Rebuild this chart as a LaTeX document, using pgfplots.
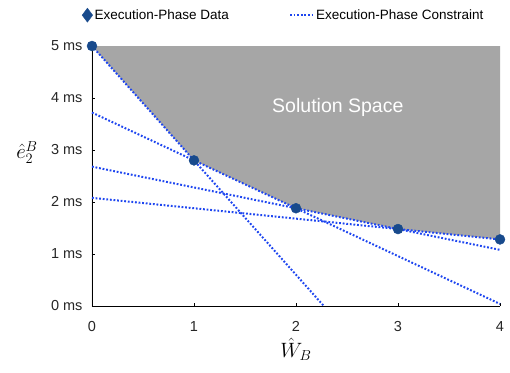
\documentclass[border=0pt]{standalone}
\usepackage{pgfplots}
\pgfplotsset{compat=1.18}
\usepackage{fontspec}
\setmainfont{Liberation Sans}
\definecolor{fillgray}{RGB}{166,166,166}
\definecolor{markblue}{RGB}{24,74,140}
\definecolor{lineblue}{RGB}{30,70,240}
\pgfplotsset{longline/.style={legend image code/.code={\draw[##1] (0pt,0pt) -- (23pt,0pt);}}}
\begin{document}
\begin{tikzpicture}
\begin{axis}[
  scale only axis,
  width=408pt, height=260pt,
  xmin=0, xmax=4, ymin=0, ymax=5,
  axis x line*=bottom, axis y line*=left,
  axis line style={-, black, line width=0.8pt},
  tick align=inside, major tick length=3pt,
  tick style={black, line width=0.6pt},
  xtick={0,1,2,3,4}, xticklabels={0,1,2,3,4},
  ytick={0,1,2,3,4,5}, yticklabels={0 ms,1 ms,2 ms,3 ms,4 ms,5 ms},
  ticklabel style={font=\fontsize{14.5}{16}\selectfont, text=black!85},
  xticklabel style={yshift=-12pt},
  yticklabel style={xshift=-6pt},
  xlabel={$\hat{W}_B$},
  xlabel style={font=\fontsize{20}{24}\selectfont, yshift=1pt},
  clip=false,
  legend columns=2,
  legend style={draw=none, fill=none, at={(0.47,1)}, anchor=south, yshift=21pt,
    font=\fontsize{13.5}{15}\selectfont, /tikz/every even column/.append style={column sep=58pt}},
  legend cell align=left,
]
\addlegendimage{only marks, mark=diamond*, mark size=7pt, color=markblue}
\addlegendentry{Execution-Phase Data}
\addlegendimage{lineblue, line width=2pt, dash pattern=on 1.8pt off 1.8pt, longline}
\addlegendentry{Execution-Phase Constraint}

\addplot[fill=fillgray, draw=none, forget plot] coordinates {
(0,5) (1,2.8) (2,1.88) (3,1.48) (4,1.28) (4,5) (0,5)} \closedcycle;

\addplot[lineblue, line width=2pt, dash pattern=on 1.8pt off 1.8pt, forget plot] coordinates {(0,5) (2.273,0)};
\addplot[lineblue, line width=2pt, dash pattern=on 1.8pt off 1.8pt, forget plot] coordinates {(0,3.72) (4,0.04)};
\addplot[lineblue, line width=2pt, dash pattern=on 1.8pt off 1.8pt, forget plot] coordinates {(0,2.68) (4,1.08)};
\addplot[lineblue, line width=2pt, dash pattern=on 1.8pt off 1.8pt, forget plot] coordinates {(0,2.08) (4,1.28)};

\addplot[only marks, mark=*, mark size=5pt, color=markblue, forget plot] coordinates {
(0,5) (1,2.8) (2,1.88) (3,1.48) (4,1.28)};

\node[text=white, font=\fontsize{19.5}{22}\selectfont] at (axis cs:2.41,3.81) {Solution Space};
\node[font=\fontsize{20}{24}\selectfont] at (rel axis cs:0,0.59) [xshift=-65pt] {$\hat{e}_2^B$};
\end{axis}
\path[use as bounding box] (-92pt,-66pt) rectangle (418pt,306pt);
\end{tikzpicture}
\end{document}
